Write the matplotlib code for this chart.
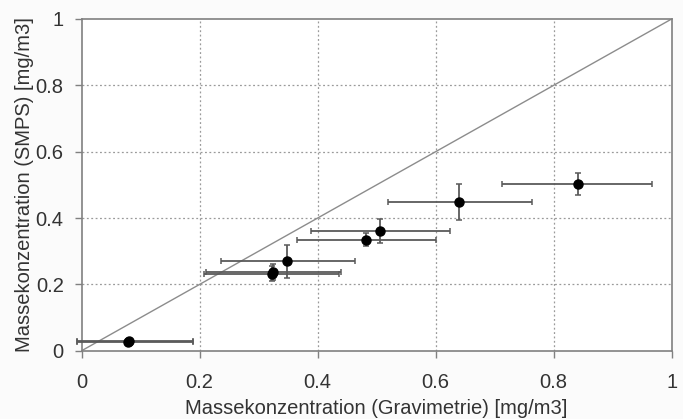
import matplotlib.pyplot as plt
import numpy as np

# Gravimetrie (x) vs SMPS (y), mg/m3
grav = [0.078, 0.080, 0.323, 0.325, 0.348, 0.482, 0.506, 0.639, 0.841]
smps = [0.025, 0.030, 0.232, 0.238, 0.270, 0.335, 0.361, 0.448, 0.502]
grav_err_lo = [0.086, 0.088, 0.116, 0.114, 0.112, 0.117, 0.118, 0.120, 0.129]
grav_err_hi = [0.111, 0.109, 0.113, 0.114, 0.116, 0.118, 0.118, 0.124, 0.125]
smps_err = [0.006, 0.006, 0.022, 0.024, 0.050, 0.020, 0.037, 0.054, 0.034]

ticks = [0, 0.2, 0.4, 0.6, 0.8, 1]
tick_labels = ["0", "0.2", "0.4", "0.6", "0.8", "1"]

plt.rcParams['font.family'] = ['Liberation Sans', 'DejaVu Sans']

fig = plt.figure(figsize=(6.83, 4.19), dpi=100)
fig.patch.set_facecolor("#fbfbfb")
ax = fig.add_axes([0.1196, 0.163, 0.8638, 0.7917])
ax.set_facecolor("white")

ax.set_xlim(0, 1)
ax.set_ylim(0, 1)

for t in ticks[1:-1]:
  ax.axvline(t, color="#9a9a9a", linestyle=(0, (1.5, 2)), linewidth=0.9, zorder=1)
  ax.axhline(t, color="#9a9a9a", linestyle=(0, (1.5, 2)), linewidth=0.9, zorder=1)

# 1:1 line
ax.plot([0, 1], [0, 1], color="#8c8c8c", linewidth=1.0, zorder=2)

ax.errorbar(grav, smps, xerr=[grav_err_lo, grav_err_hi], yerr=smps_err,
            fmt="o", color="black", markersize=6.5, ecolor="#5a5a5a",
            elinewidth=1.3, capsize=2.5, capthick=1.1, clip_on=False, zorder=3)

ax.set_xticks(ticks)
ax.set_xticklabels(tick_labels)
ax.set_yticks(ticks)
ax.set_yticklabels(tick_labels)
ax.tick_params(axis="both", direction="out", length=5, width=1, color="#808080",
               labelsize=14.5, labelcolor="#333333")
ax.tick_params(axis="x", pad=11)
ax.tick_params(axis="y", pad=8)

for s in ax.spines.values():
  s.set_color("#808080")
  s.set_linewidth(1.2)

ax.set_xlabel("Massekonzentration (Gravimetrie) [mg/m3]", fontsize=14.5, color="#333333", labelpad=5)
ax.set_ylabel("Massekonzentration (SMPS) [mg/m3]", fontsize=14.5, color="#333333", labelpad=1)

plt.savefig("out.png", dpi=100, facecolor=fig.get_facecolor())
